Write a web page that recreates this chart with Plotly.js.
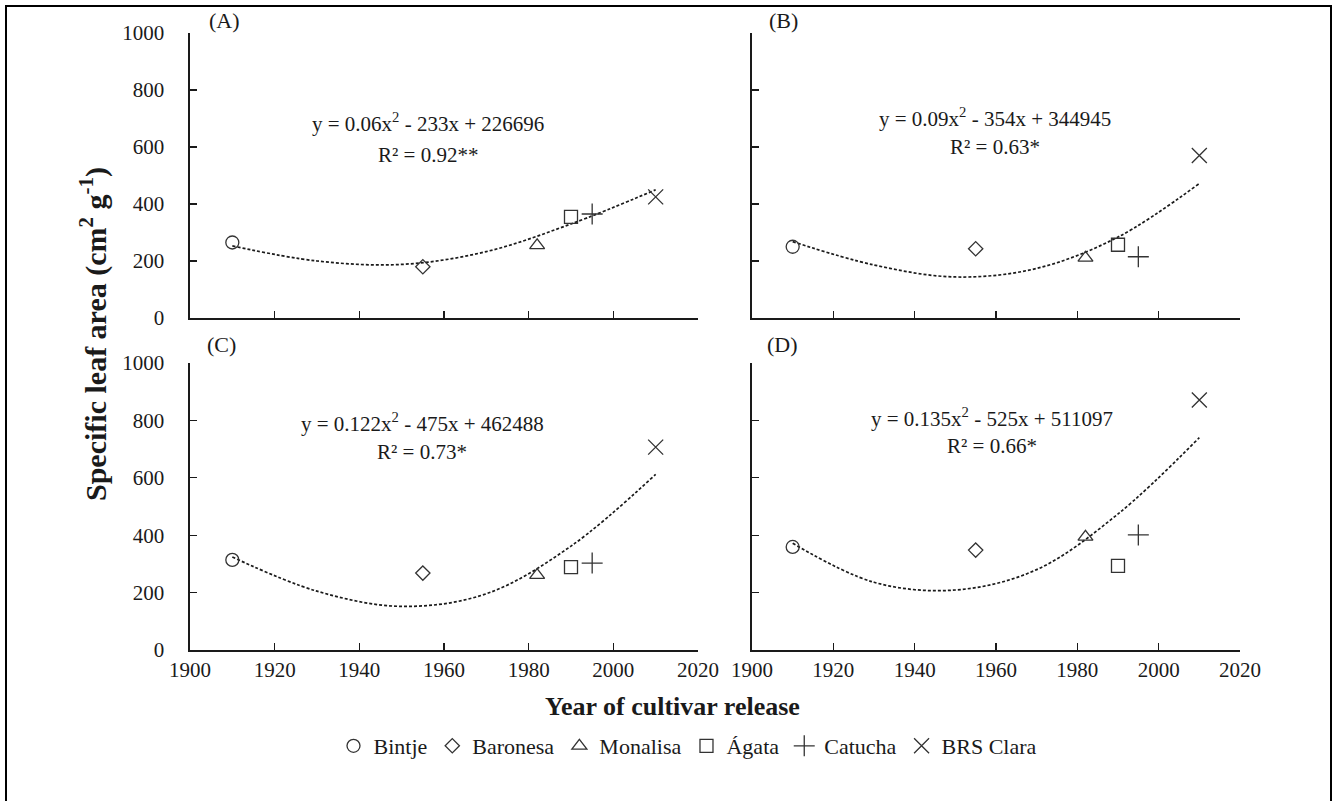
<!DOCTYPE html>
<html><head><meta charset="utf-8">
<script src="https://cdn.plot.ly/plotly-3.0.1.min.js"></script>
<style>html,body{margin:0;padding:0;background:#fff}#chart{width:1336px;height:801px}</style>
</head><body><div id="chart"></div>
<script>
// ---- data ----
const cultivars = ['Bintje', 'Baronesa', 'Monalisa', 'Ágata', 'Catucha', 'BRS Clara'];
const releaseYears = [1910, 1955, 1982, 1990, 1995, 2010];
const slaA = [265, 180, 255, 355, 365, 425];
const slaB = [250, 243, 211, 257, 215, 570];
const slaC = [314, 268, 261, 289, 303, 707];
const slaD = [359, 348, 394, 293, 401, 871];
// quadratic trend lines as drawn in the reference
const trendYears = [1910, 1930, 1950, 1970, 1990, 2010];
const trendA = [253, 200, 188, 233, 330, 450];
const trendB = [268, 186, 144, 174, 284, 472];
const trendC = [324, 205, 152, 196, 362, 612];
const trendD = [372, 236, 209, 280, 474, 740];
const equations = ['y = 0.06x<sup>2</sup> - 233x + 226696', 'y = 0.09x<sup>2</sup> - 354x + 344945',
                   'y = 0.122x<sup>2</sup> - 475x + 462488', 'y = 0.135x<sup>2</sup> - 525x + 511097'];
const r2Labels = ['R² = 0.92**', 'R² = 0.63*', 'R² = 0.73*', 'R² = 0.66*'];
const panelLabels = ['(A)', '(B)', '(C)', '(D)'];
const xTickVals = [1900, 1920, 1940, 1960, 1980, 2000, 2020];
const yTickVals = [0, 200, 400, 600, 800, 1000];

// ---- styling ----
const W = 1336, H = 801;
const X = p => p / W, Y = p => 1 - p / H;
const FONT = "'Liberation Serif', 'Times New Roman', serif";
const INK = '#1a1a1a';
const symbols = ['circle-open', 'diamond-open', 'triangle-up-open', 'square-open', 'cross-thin-open', 'x-thin-open'];
const sizes = [13, 11, 13, 13, 15, 15];

const panels = [
  {vals: slaA, trend: trendA, xa: 'x', ya: 'y'},
  {vals: slaB, trend: trendB, xa: 'x2', ya: 'y2'},
  {vals: slaC, trend: trendC, xa: 'x3', ya: 'y3'},
  {vals: slaD, trend: trendD, xa: 'x4', ya: 'y4'}
];

const traces = [];
panels.forEach((p, pi) => {
  traces.push({
    x: trendYears, y: p.trend, xaxis: p.xa, yaxis: p.ya, mode: 'lines', showlegend: false,
    line: {color: INK, width: 1.7, dash: '3px,2px', shape: 'spline', smoothing: 1.0}, hoverinfo: 'skip'
  });
  cultivars.forEach((c, ci) => {
    traces.push({
      x: [releaseYears[ci]], y: [p.vals[ci]], xaxis: p.xa, yaxis: p.ya, mode: 'markers',
      name: c, legendgroup: c, showlegend: pi === 0,
      marker: {symbol: symbols[ci], size: sizes[ci], color: '#333', line: {color: '#333', width: 1.3}}
    });
  });
});

function xAxis(domain, anchor, labels) {
  return {domain: domain, anchor: anchor, range: [1900, 2020], tickvals: xTickVals, showticklabels: labels,
    ticks: 'inside', ticklen: 7, tickwidth: 1.3, tickcolor: INK, showline: true, linecolor: INK, linewidth: 1.6,
    showgrid: false, zeroline: false, tickfont: {family: FONT, size: 21, color: INK}};
}
function yAxis(domain, anchor, labels) {
  return {domain: domain, anchor: anchor, range: [0, 1000], tickvals: yTickVals, showticklabels: labels,
    ticks: 'inside', ticklen: 7, tickwidth: 1.3, tickcolor: INK, showline: true, linecolor: INK, linewidth: 1.6,
    showgrid: false, zeroline: false, tickfont: {family: FONT, size: 21, color: INK}, ticklabelstandoff: 20};
}

const L = [X(190), X(698)], R = [X(752), X(1240)];
const T = [Y(318), Y(33)], B = [Y(650), Y(363)];

const annotations = [];
const eqPos = [[428, 123, 155], [995, 117, 147], [422, 423, 452], [992, 417, 446]];
const lblPos = [[207, 21], [767, 21], [205, 345], [765, 345]];
for (let i = 0; i < 4; i++) {
  annotations.push({xref: 'paper', yref: 'paper', x: X(eqPos[i][0]), y: Y(eqPos[i][1]), text: equations[i],
    showarrow: false, xanchor: 'center', yanchor: 'middle', font: {family: FONT, size: 21, color: INK}});
  annotations.push({xref: 'paper', yref: 'paper', x: X(eqPos[i][0]), y: Y(eqPos[i][2]), text: r2Labels[i],
    showarrow: false, xanchor: 'center', yanchor: 'middle', font: {family: FONT, size: 21, color: INK}});
  annotations.push({xref: 'paper', yref: 'paper', x: X(lblPos[i][0]), y: Y(lblPos[i][1]), text: panelLabels[i],
    showarrow: false, xanchor: 'left', yanchor: 'middle', font: {family: FONT, size: 22, color: INK}});
}
annotations.push({xref: 'paper', yref: 'paper', x: X(93), y: Y(334), textangle: -90,
  text: '<b>Specific leaf area (cm<sup>2</sup> g<sup>-1</sup>)</b>', showarrow: false,
  xanchor: 'center', yanchor: 'middle', font: {family: FONT, size: 30, color: INK}});
annotations.push({xref: 'paper', yref: 'paper', x: X(672), y: Y(706),
  text: '<b>Year of cultivar release</b>', showarrow: false,
  xanchor: 'center', yanchor: 'middle', font: {family: FONT, size: 26, color: INK}});

const layout = {
  width: W, height: H, margin: {l: 0, r: 0, t: 0, b: 0},
  paper_bgcolor: '#fff', plot_bgcolor: 'rgba(0,0,0,0)',
  font: {family: FONT, size: 20, color: INK},
  xaxis: xAxis(L, 'y', false), yaxis: yAxis(T, 'x', true),
  xaxis2: xAxis(R, 'y2', false), yaxis2: yAxis(T, 'x2', false),
  xaxis3: xAxis(L, 'y3', true), yaxis3: yAxis(B, 'x3', true),
  xaxis4: xAxis(R, 'y4', true), yaxis4: yAxis(B, 'x4', false),
  showlegend: true,
  legend: {orientation: 'h', x: X(688), xanchor: 'center', y: Y(746), yanchor: 'middle',
    font: {family: FONT, size: 22, color: INK}, itemwidth: 30, bgcolor: 'rgba(0,0,0,0)', traceorder: 'normal'},
  annotations: annotations,
  shapes: [{type: 'rect', xref: 'paper', yref: 'paper', x0: X(6), x1: X(1331), y0: Y(806), y1: Y(6),
    line: {color: '#000', width: 2}, fillcolor: 'rgba(0,0,0,0)'}]
};

Plotly.newPlot('chart', traces, layout, {staticPlot: true, displayModeBar: false});
</script>
</body></html>
